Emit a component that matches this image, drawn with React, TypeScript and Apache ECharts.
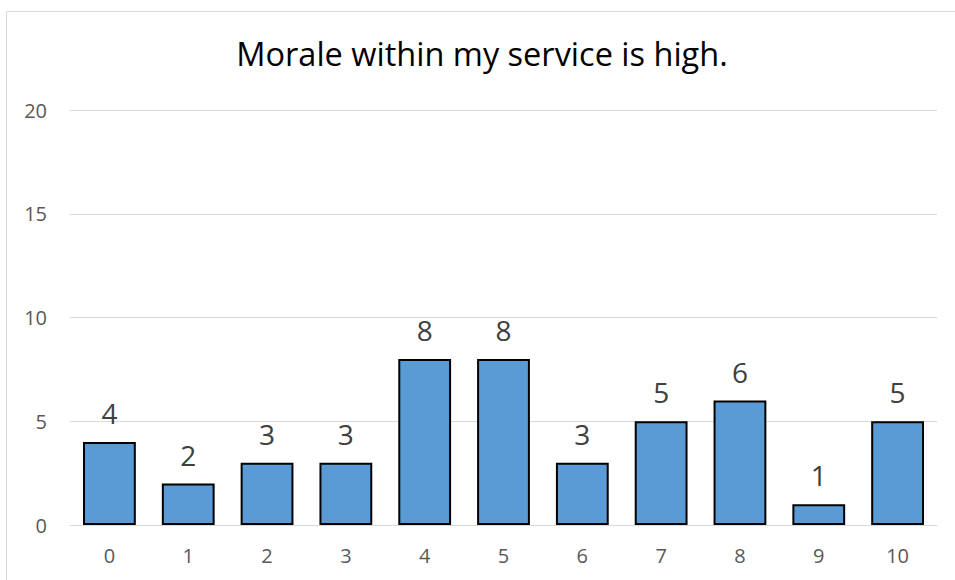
import React, { useEffect, useRef } from "react";
import * as echarts from "echarts";

const titleText = "Morale within my service is high.";
const categories = ["0", "1", "2", "3", "4", "5", "6", "7", "8", "9", "10"];
const counts = [4, 2, 3, 3, 8, 8, 3, 5, 6, 1, 5];
const yMin = 0;
const yMax = 20;
const yInterval = 5;

export default function App() {
  const ref = useRef<HTMLDivElement>(null);
  useEffect(() => {
    document.body.style.margin = "0";
    if (!ref.current) return;
    const chart = echarts.init(ref.current, undefined, { renderer: "svg" });
    const font = "'Open Sans', 'Noto Sans', sans-serif";
    chart.setOption({
      animation: false,
      backgroundColor: "#ffffff",
      title: {
        text: titleText,
        left: 477,
        top: 32,
        textAlign: "center",
        textStyle: {
          fontFamily: font,
          fontSize: 32.5,
          fontWeight: "normal",
          color: "#000000",
        },
      },
      graphic: [
        {
          type: "rect",
          shape: { x: 6.5, y: 11.5, width: 1000, height: 1000 },
          style: { fill: "none", stroke: "#d9d9d9", lineWidth: 1 },
          silent: true,
          z: -1,
        },
      ],
      grid: { left: 70, right: 18, top: 110, bottom: 55, containLabel: false },
      xAxis: {
        type: "category",
        data: categories,
        axisLine: { show: true, lineStyle: { color: "#d9d9d9", width: 1 } },
        axisTick: { show: false },
        axisLabel: {
          fontFamily: font,
          fontSize: 20,
          color: "#595959",
          margin: 20,
        },
      },
      yAxis: {
        type: "value",
        min: yMin,
        max: yMax,
        interval: yInterval,
        axisLine: { show: false },
        axisTick: { show: false },
        splitLine: { lineStyle: { color: "#d9d9d9", width: 1 } },
        axisLabel: {
          fontFamily: font,
          fontSize: 20,
          color: "#595959",
          margin: 23,
        },
      },
      series: [
        {
          type: "bar",
          data: counts,
          barCategoryGap: "33%",
          itemStyle: {
            color: "#5b9bd5",
            borderColor: "#000000",
            borderWidth: 2,
          },
          label: {
            show: true,
            position: "top",
            distance: 15,
            fontFamily: font,
            fontSize: 28,
            color: "#404040",
          },
        },
      ],
    });
    return () => chart.dispose();
  }, []);
  return <div ref={ref} style={{ width: 955, height: 580 }} />;
}
